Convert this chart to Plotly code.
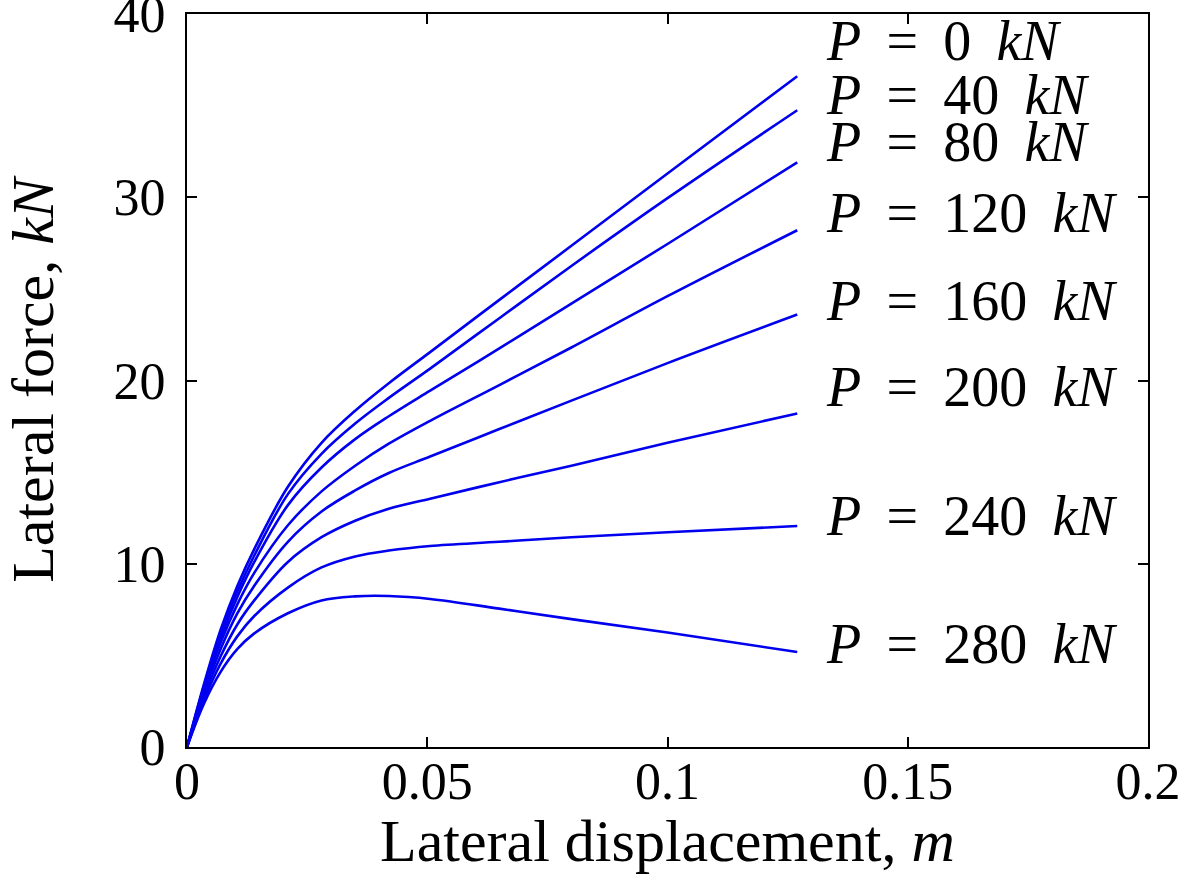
import plotly.graph_objects as go

# Lateral displacement samples (m)
disp = [0, 0.0035, 0.007, 0.0105, 0.014, 0.021, 0.028, 0.035, 0.042, 0.0506,
        0.065, 0.08, 0.1, 0.127]

# Axial loads P (kN)
loads = [0, 40, 80, 120, 160, 200, 240, 280]

# Lateral force (kN) for each axial load P
force_p0 = [0, 3.4, 6.4, 8.8, 10.8, 14.2, 16.6, 18.35, 19.85, 21.55, 24.4, 27.35, 31.3, 36.6]
force_p40 = [0, 3.3, 6.2, 8.5, 10.45, 13.8, 16.0, 17.65, 19.05, 20.65, 23.4, 26.25, 29.95, 34.75]
force_p80 = [0, 3.2, 5.95, 8.2, 10.1, 13.2, 15.25, 16.8, 18.05, 19.45, 21.75, 24.2, 27.45, 31.9]
force_p120 = [0, 3.1, 5.7, 7.8, 9.5, 12.1, 13.95, 15.35, 16.55, 17.8, 19.75, 21.8, 24.6, 28.2]
force_p160 = [0, 2.95, 5.35, 7.3, 8.8, 11.2, 12.85, 14.0, 14.95, 15.85, 17.35, 18.9, 20.95, 23.6]
force_p200 = [0, 2.75, 4.95, 6.7, 8.0, 10.1, 11.45, 12.35, 13.0, 13.55, 14.45, 15.35, 16.6, 18.2]
force_p240 = [0, 2.55, 4.55, 6.05, 7.15, 8.7, 9.8, 10.4, 10.72, 10.97, 11.2, 11.45, 11.72, 12.06]
force_p280 = [0, 2.35, 4.1, 5.35, 6.2, 7.3, 8.0, 8.22, 8.24, 8.08, 7.55, 6.98, 6.25, 5.18]
forces = [force_p0, force_p40, force_p80, force_p120, force_p160, force_p200, force_p240, force_p280]

# Label anchor positions (data coords) for the P annotations
label_x = 0.1325
label_y = [38.5, 35.6, 33.0, 29.15, 24.35, 19.65, 12.6, 5.62]

x_ticks = [0, 0.05, 0.1, 0.15, 0.2]
x_ticktext = ["0", "0.05", "0.1", "0.15", "0.2"]
y_ticks = [0, 10, 20, 30, 40]

x_title = "Lateral displacement, <i>m</i>"
y_title = "Lateral force, <i>kN</i>"

FONT = "Liberation Serif"
TICK_FS = 52
TEXT_FS = 56
TITLE_FS = 60
THIN = "\u2009"

fig = go.Figure()
for p, f in zip(loads, forces):
    fig.add_trace(go.Scatter(x=disp, y=f, mode="lines", name=f"P = {p} kN",
                             line=dict(color="#0000ee", width=2.6, shape="spline", smoothing=1.0),
                             showlegend=False))

for p, ly in zip(loads, label_y):
    fig.add_annotation(x=label_x, y=ly, xref="x", yref="y", xanchor="left", yanchor="middle",
                       text=f"<i>P</i>{THIN} = {THIN}{p}{THIN} <i>kN</i>", showarrow=False,
                       font=dict(family=FONT, size=TEXT_FS, color="black"))

# x-axis title placed below the tick labels
fig.add_annotation(x=0.5, y=-0.128, xref="paper", yref="paper", xanchor="center", yanchor="middle",
                   text=x_title, showarrow=False,
                   font=dict(family=FONT, size=TITLE_FS, color="black"))

axis_common = dict(showline=True, linecolor="black", linewidth=2, mirror="allticks",
                   ticks="inside", ticklen=10, tickwidth=2, tickcolor="black",
                   showgrid=False, zeroline=False, automargin=False,
                   ticklabeloverflow="allow",
                   tickfont=dict(family=FONT, size=TICK_FS, color="black"))

fig.update_layout(
    width=1184, height=878,
    margin=dict(l=187, r=36, t=14, b=131),
    plot_bgcolor="white", paper_bgcolor="white",
    xaxis=dict(range=[0, 0.2], tickvals=x_ticks, ticktext=x_ticktext,
               ticklabelstandoff=-12, **axis_common),
    yaxis=dict(range=[0, 40], tickvals=y_ticks,
               ticklabelstandoff=9,
               title=dict(text=y_title, standoff=87,
                          font=dict(family=FONT, size=TITLE_FS, color="black")),
               **axis_common),
)

# remove the default 8px page margin so the figure fills the window exactly
fig.write_html("out.html", config={"displayModeBar": False},
               post_script="document.body.style.margin='0';")
